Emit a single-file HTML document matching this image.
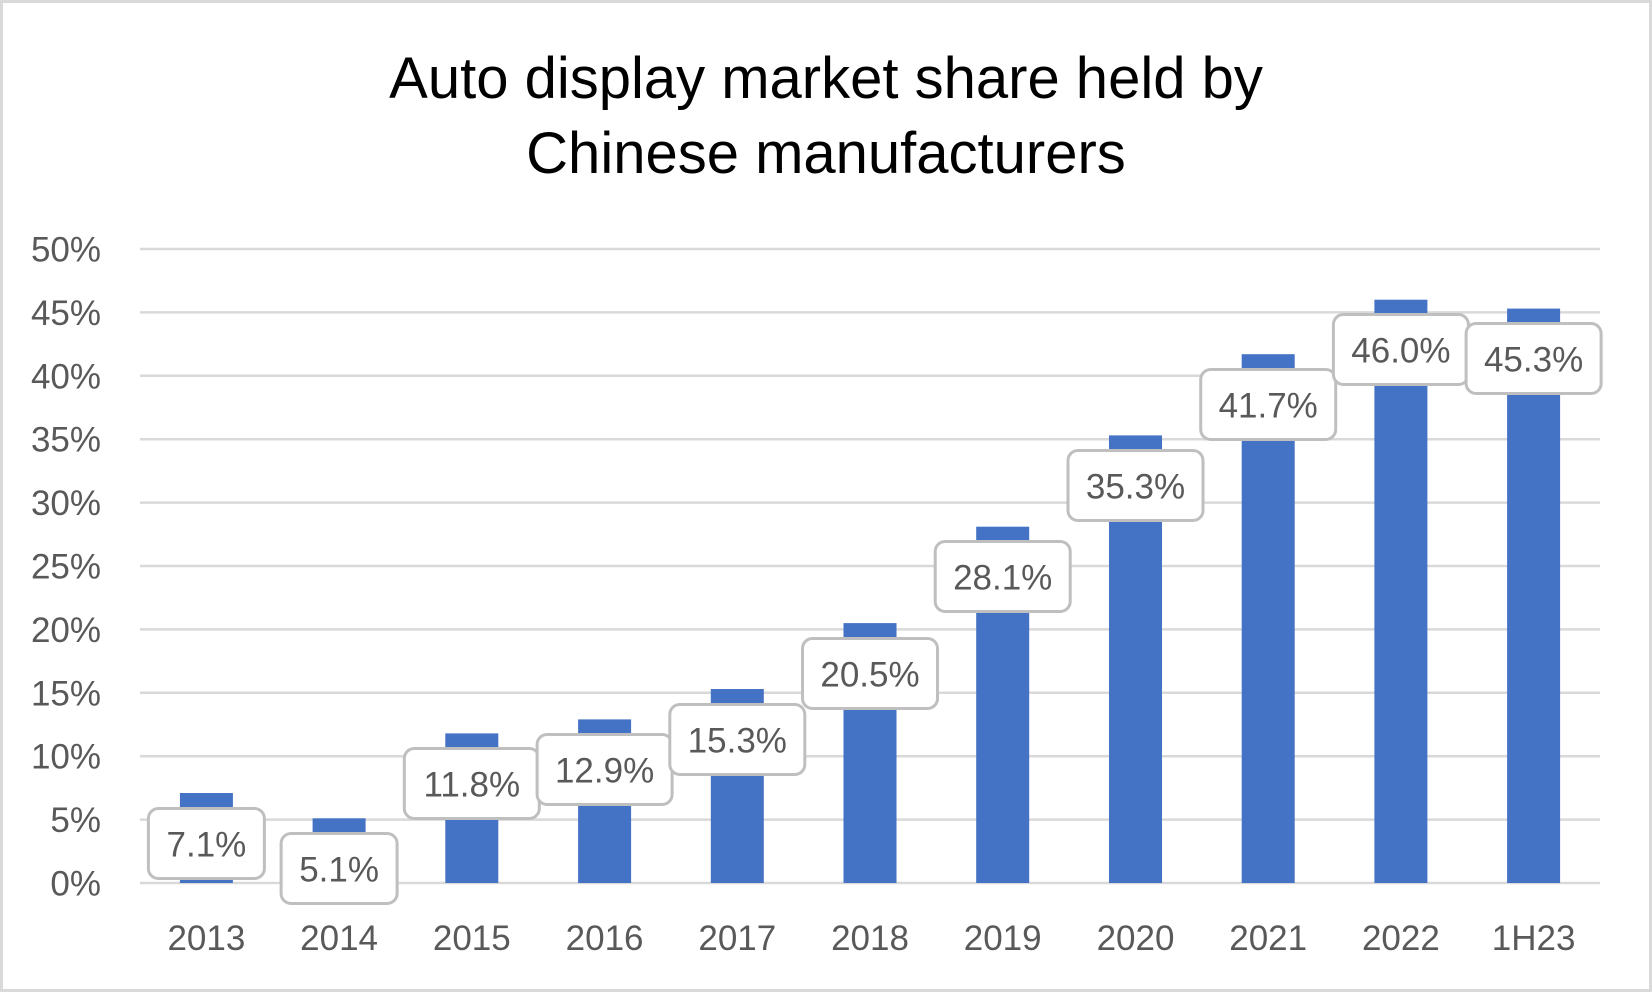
<!DOCTYPE html>
<html>
<head>
<meta charset="utf-8">
<style>
  html,body{margin:0;padding:0;background:#fff;}
  svg{display:block;}
  text{font-family:"Liberation Sans", Arial, sans-serif;}
</style>
</head>
<body>
<svg width="1652" height="992" viewBox="0 0 1652 992" xmlns="http://www.w3.org/2000/svg">
  <rect x="1.5" y="1.5" width="1649" height="989" fill="#fff" stroke="#d9d9d9" stroke-width="3"/>
  <!-- Title -->
  <text x="826" y="98" font-size="58" text-anchor="middle" fill="#000">Auto display market share held by</text>
  <text x="826" y="173" font-size="58" text-anchor="middle" fill="#000">Chinese manufacturers</text>

  <!-- Gridlines -->
  <g stroke="#d9d9d9" stroke-width="2.5">
    <line x1="140" x2="1600" y1="249" y2="249"/>
    <line x1="140" x2="1600" y1="312.4" y2="312.4"/>
    <line x1="140" x2="1600" y1="375.8" y2="375.8"/>
    <line x1="140" x2="1600" y1="439.2" y2="439.2"/>
    <line x1="140" x2="1600" y1="502.6" y2="502.6"/>
    <line x1="140" x2="1600" y1="566" y2="566"/>
    <line x1="140" x2="1600" y1="629.4" y2="629.4"/>
    <line x1="140" x2="1600" y1="692.8" y2="692.8"/>
    <line x1="140" x2="1600" y1="756.2" y2="756.2"/>
    <line x1="140" x2="1600" y1="819.6" y2="819.6"/>
    <line x1="140" x2="1600" y1="883" y2="883"/>
  </g>

  <!-- Y labels -->
  <g font-size="35" fill="#595959" text-anchor="end">
    <text x="101" y="261.5">50%</text>
    <text x="101" y="324.9">45%</text>
    <text x="101" y="388.3">40%</text>
    <text x="101" y="451.7">35%</text>
    <text x="101" y="515.1">30%</text>
    <text x="101" y="578.5">25%</text>
    <text x="101" y="641.9">20%</text>
    <text x="101" y="705.3">15%</text>
    <text x="101" y="768.7">10%</text>
    <text x="101" y="832.1">5%</text>
    <text x="101" y="895.5">0%</text>
  </g>

  <!-- Bars -->
  <g fill="#4472c4">
    <rect x="179.9" y="793.0" width="53" height="90"/>
    <rect x="312.6" y="818.3" width="53" height="64.7"/>
    <rect x="445.3" y="733.4" width="53" height="149.6"/>
    <rect x="578.1" y="719.4" width="53" height="163.6"/>
    <rect x="710.8" y="689.0" width="53" height="194"/>
    <rect x="843.5" y="623.1" width="53" height="259.9"/>
    <rect x="976.2" y="526.7" width="53" height="356.3"/>
    <rect x="1109.0" y="435.4" width="53" height="447.6"/>
    <rect x="1241.7" y="354.2" width="53" height="528.8"/>
    <rect x="1374.4" y="299.7" width="53" height="583.3"/>
    <rect x="1507.1" y="308.6" width="53" height="574.4"/>
  </g>

  <!-- Category labels -->
  <g font-size="35" fill="#595959" text-anchor="middle">
    <text x="206.4" y="950">2013</text>
    <text x="339.1" y="950">2014</text>
    <text x="471.8" y="950">2015</text>
    <text x="604.6" y="950">2016</text>
    <text x="737.3" y="950">2017</text>
    <text x="870" y="950">2018</text>
    <text x="1002.7" y="950">2019</text>
    <text x="1135.5" y="950">2020</text>
    <text x="1268.2" y="950">2021</text>
    <text x="1400.9" y="950">2022</text>
    <text x="1533.6" y="950">1H23</text>
  </g>

  <!-- Data labels -->
  <g font-size="35" fill="#595959" text-anchor="middle">
    <g><rect x="148.4" y="808.5" width="116" height="70" rx="10" fill="#fff" stroke="#bfbfbf" stroke-width="3"/><text x="206.4" y="856.5">7.1%</text></g>
    <g><rect x="281.1" y="833.5" width="116" height="70" rx="10" fill="#fff" stroke="#bfbfbf" stroke-width="3"/><text x="339.1" y="881.5">5.1%</text></g>
    <g><rect x="404.3" y="748.5" width="135" height="70" rx="10" fill="#fff" stroke="#bfbfbf" stroke-width="3"/><text x="471.8" y="796.5">11.8%</text></g>
    <g><rect x="537.1" y="734.5" width="135" height="70" rx="10" fill="#fff" stroke="#bfbfbf" stroke-width="3"/><text x="604.6" y="782.5">12.9%</text></g>
    <g><rect x="669.8" y="704.5" width="135" height="70" rx="10" fill="#fff" stroke="#bfbfbf" stroke-width="3"/><text x="737.3" y="752.5">15.3%</text></g>
    <g><rect x="802.5" y="638.5" width="135" height="70" rx="10" fill="#fff" stroke="#bfbfbf" stroke-width="3"/><text x="870" y="686.5">20.5%</text></g>
    <g><rect x="935.2" y="541.5" width="135" height="70" rx="10" fill="#fff" stroke="#bfbfbf" stroke-width="3"/><text x="1002.7" y="589.5">28.1%</text></g>
    <g><rect x="1068.0" y="450.5" width="135" height="70" rx="10" fill="#fff" stroke="#bfbfbf" stroke-width="3"/><text x="1135.5" y="498.5">35.3%</text></g>
    <g><rect x="1200.7" y="369.5" width="135" height="70" rx="10" fill="#fff" stroke="#bfbfbf" stroke-width="3"/><text x="1268.2" y="417.5">41.7%</text></g>
    <g><rect x="1333.4" y="314.5" width="135" height="70" rx="10" fill="#fff" stroke="#bfbfbf" stroke-width="3"/><text x="1400.9" y="362.5">46.0%</text></g>
    <g><rect x="1466.1" y="323.5" width="135" height="70" rx="10" fill="#fff" stroke="#bfbfbf" stroke-width="3"/><text x="1533.6" y="371.5">45.3%</text></g>
  </g>
</svg>
</body>
</html>
